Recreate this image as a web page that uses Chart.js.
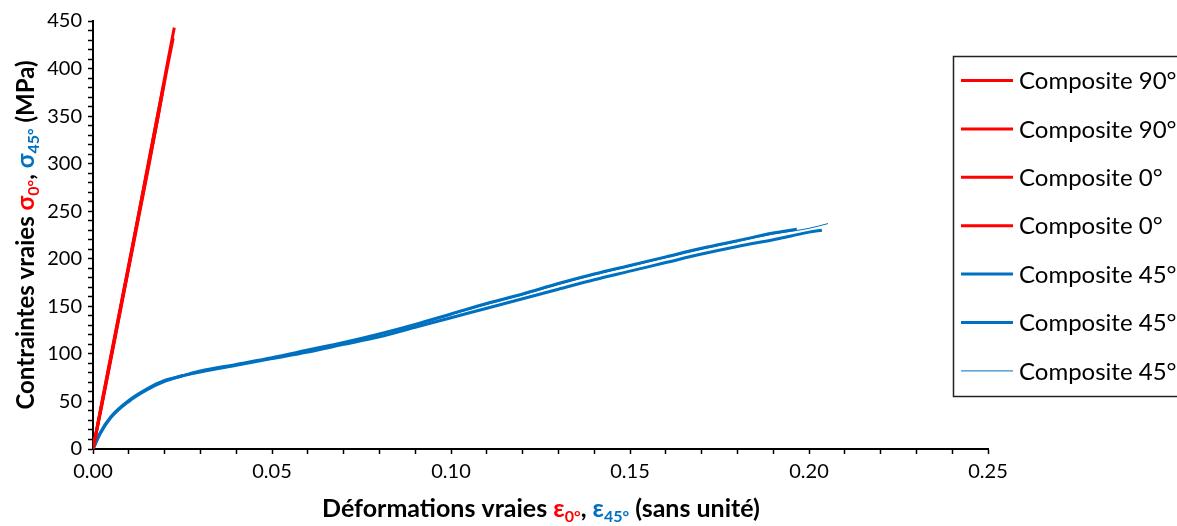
<!DOCTYPE html>
<html>
<head>
<meta charset="utf-8">
<script src="https://cdn.jsdelivr.net/npm/chart.js@4/dist/chart.umd.min.js"></script>
<style>
  body { margin: 0; background: #fff; }
  #wrap { width: 1177px; height: 526px; }
</style>
</head>
<body>
<div id="wrap"><canvas id="courbes" width="1177" height="526"></canvas></div>
<script>
// Données (déformation vraie, contrainte vraie en MPa)
const labels = ['Composite 90°', 'Composite 90°', 'Composite 0°', 'Composite 0°',
                'Composite 45°', 'Composite 45°', 'Composite 45°'];

const eps90a = [0, 0.0026, 0.0052, 0.0078, 0.0104, 0.0130, 0.0156, 0.0182, 0.0195];
const sig90a = [0, 50, 100, 150, 200, 250, 300, 350, 378];
const eps90b = [0, 0.0025, 0.0051, 0.0077, 0.0103, 0.0129, 0.0154, 0.0180, 0.0197];
const sig90b = [0, 50, 100, 150, 200, 250, 300, 350, 382];
const eps0a = [0, 0.0026, 0.0052, 0.0078, 0.0104, 0.0129, 0.0155, 0.0180, 0.0205, 0.0227];
const sig0a = [0, 50, 100, 150, 200, 250, 300, 350, 400, 443];
const eps0b = [0, 0.0027, 0.0053, 0.0079, 0.0105, 0.0131, 0.0157, 0.0182, 0.0207, 0.0224];
const sig0b = [0, 50, 100, 150, 200, 250, 300, 350, 400, 432];

const eps45a = [0, 0.002, 0.005, 0.01, 0.015, 0.02, 0.025, 0.03, 0.04, 0.05, 0.06, 0.07, 0.08,
                0.09, 0.10, 0.11, 0.12, 0.13, 0.14, 0.15, 0.16, 0.17, 0.18, 0.19, 0.195, 0.20, 0.2036];
const sig45a = [0, 16, 33, 50, 62, 71, 77, 81, 88, 95, 102, 110, 118,
                128, 138, 148, 158, 168, 178, 187, 196, 205, 213, 220, 224, 228, 230];
const eps45b = [0, 0.002, 0.005, 0.01, 0.015, 0.02, 0.025, 0.03, 0.04, 0.05, 0.06, 0.07, 0.08,
                0.09, 0.10, 0.11, 0.12, 0.13, 0.14, 0.15, 0.16, 0.17, 0.18, 0.19, 0.1966];
const sig45b = [0, 17, 34, 51, 63, 72, 77, 82, 89, 96, 104, 112, 121,
                131, 142, 153, 163, 174, 184, 193, 202, 211, 219, 227, 231];
const eps45c = [0, 0.002, 0.005, 0.01, 0.015, 0.02, 0.025, 0.03, 0.04, 0.05, 0.06, 0.07, 0.08,
                0.09, 0.10, 0.11, 0.12, 0.13, 0.14, 0.15, 0.16, 0.17, 0.18, 0.19, 0.20, 0.2053];
const sig45c = [0, 16, 34, 51, 63, 72, 77, 82, 89, 96, 103, 111, 120,
                130, 141, 152, 162, 173, 183, 192, 201, 210, 218, 226, 232, 237];

const xTickLabels = ['0.00', '0.05', '0.10', '0.15', '0.20', '0.25'];
const yTickLabels = ['0', '50', '100', '150', '200', '250', '300', '350', '400', '450'];

const ROUGE = '#ff0000';
const BLEU = '#0070c0';
const POLICE = 'Lato, "Open Sans", sans-serif';

function points(xs, ys) {
    return xs.map((x, i) => ({ x: x, y: ys[i] }));
}

function serie(i, xs, ys, couleur, epaisseur, lisse) {
    return {
        label: labels[i],
        data: points(xs, ys),
        borderColor: couleur,
        backgroundColor: couleur,
        borderWidth: epaisseur,
        pointRadius: 0,
        cubicInterpolationMode: lisse ? 'monotone' : 'default',
        tension: 0,
        fill: false
    };
}

// Texte avec couleurs et indices (titres des axes)
function texteRiche(ctx, morceaux, cx, cy, taille) {
    const petit = Math.round(taille * 0.65);
    let total = 0;
    morceaux.forEach(m => {
        ctx.font = 'bold ' + (m.sub ? petit : taille) + 'px ' + POLICE;
        m.w = ctx.measureText(m.t).width;
        total += m.w;
    });
    let x = cx - total / 2;
    ctx.textAlign = 'left';
    ctx.textBaseline = 'alphabetic';
    morceaux.forEach(m => {
        ctx.font = 'bold ' + (m.sub ? petit : taille) + 'px ' + POLICE;
        ctx.fillStyle = m.c;
        ctx.fillText(m.t, x, cy + (m.sub ? 5 : 0));
        x += m.w;
    });
}

const titresAxes = {
    id: 'titresAxes',
    afterDraw(chart) {
        const ctx = chart.ctx;
        const aire = chart.chartArea;
        ctx.save();
        texteRiche(ctx, [
            { t: 'Déformations vraies ', c: '#000' },
            { t: 'ε', c: ROUGE }, { t: '0°', c: ROUGE, sub: true },
            { t: ', ', c: '#000' },
            { t: 'ε', c: BLEU }, { t: '45°', c: BLEU, sub: true },
            { t: ' (sans unité)', c: '#000' }
        ], 541, 517, 25);
        ctx.translate(34, (aire.top + aire.bottom) / 2);
        ctx.rotate(-Math.PI / 2);
        texteRiche(ctx, [
            { t: 'Contraintes vraies ', c: '#000' },
            { t: 'σ', c: ROUGE }, { t: '0°', c: ROUGE, sub: true },
            { t: ', ', c: '#000' },
            { t: 'σ', c: BLEU }, { t: '45°', c: BLEU, sub: true },
            { t: ' (MPa)', c: '#000' }
        ], 0, 0, 24);
        ctx.restore();
    }
};

const legendeBoite = {
    id: 'legendeBoite',
    afterDraw(chart) {
        const ctx = chart.ctx;
        ctx.save();
        ctx.fillStyle = '#fff';
        ctx.fillRect(953, 56, 240, 341);
        ctx.strokeStyle = '#222';
        ctx.lineWidth = 1.5;
        ctx.strokeRect(953.5, 56.5, 240, 340);
        ctx.font = '24px ' + POLICE;
        ctx.textBaseline = 'middle';
        ctx.textAlign = 'left';
        chart.data.datasets.forEach((ds, i) => {
            const y = 80.5 + i * 48.4;
            ctx.strokeStyle = ds.borderColor;
            ctx.lineWidth = ds.borderWidth;
            ctx.beginPath();
            ctx.moveTo(961, y);
            ctx.lineTo(1013, y);
            ctx.stroke();
            ctx.fillStyle = '#000';
            ctx.fillText(ds.label, 1019, y + 1);
        });
        ctx.restore();
    }
};

const ctx = document.getElementById('courbes').getContext('2d');
new Chart(ctx, {
    type: 'line',
    data: {
        datasets: [
            serie(0, eps90a, sig90a, ROUGE, 3, false),
            serie(1, eps90b, sig90b, ROUGE, 3, false),
            serie(2, eps0a, sig0a, ROUGE, 3, false),
            serie(3, eps0b, sig0b, ROUGE, 3, false),
            serie(4, eps45a, sig45a, BLEU, 3, true),
            serie(5, eps45b, sig45b, BLEU, 3, true),
            serie(6, eps45c, sig45c, BLEU, 1, true)
        ]
    },
    options: {
        responsive: false,
        animation: false,
        devicePixelRatio: 1,
        layout: { padding: { top: 21, right: 189, left: 0, bottom: 0 } },
        plugins: {
            legend: { display: false },
            tooltip: { enabled: false }
        },
        scales: {
            x: {
                type: 'linear',
                min: 0,
                max: 0.25,
                afterFit: s => { s.height = 77; },
                border: { color: '#000', width: 2 },
                grid: { drawOnChartArea: false, drawTicks: true, tickLength: 5, tickColor: '#000', tickWidth: 1.5 },
                ticks: {
                    stepSize: 0.01,
                    autoSkip: false,
                    maxRotation: 0,
                    padding: 6,
                    color: '#000',
                    font: { family: POLICE, size: 20 },
                    callback: function (v) {
                        const n = Math.round(v * 100);
                        return n % 5 === 0 ? xTickLabels[n / 5] : '';
                    }
                }
            },
            y: {
                min: 0,
                max: 450,
                afterFit: s => { s.width = 93; },
                border: { color: '#000', width: 2 },
                grid: { drawOnChartArea: false, drawTicks: true, tickLength: 5, tickColor: '#000', tickWidth: 1.5 },
                ticks: {
                    stepSize: 10,
                    autoSkip: false,
                    padding: 6,
                    color: '#000',
                    font: { family: POLICE, size: 20 },
                    callback: function (v) {
                        const n = Math.round(v);
                        return n % 50 === 0 ? yTickLabels[n / 50] : '';
                    }
                }
            }
        }
    },
    plugins: [titresAxes, legendeBoite]
});
</script>
</body>
</html>
